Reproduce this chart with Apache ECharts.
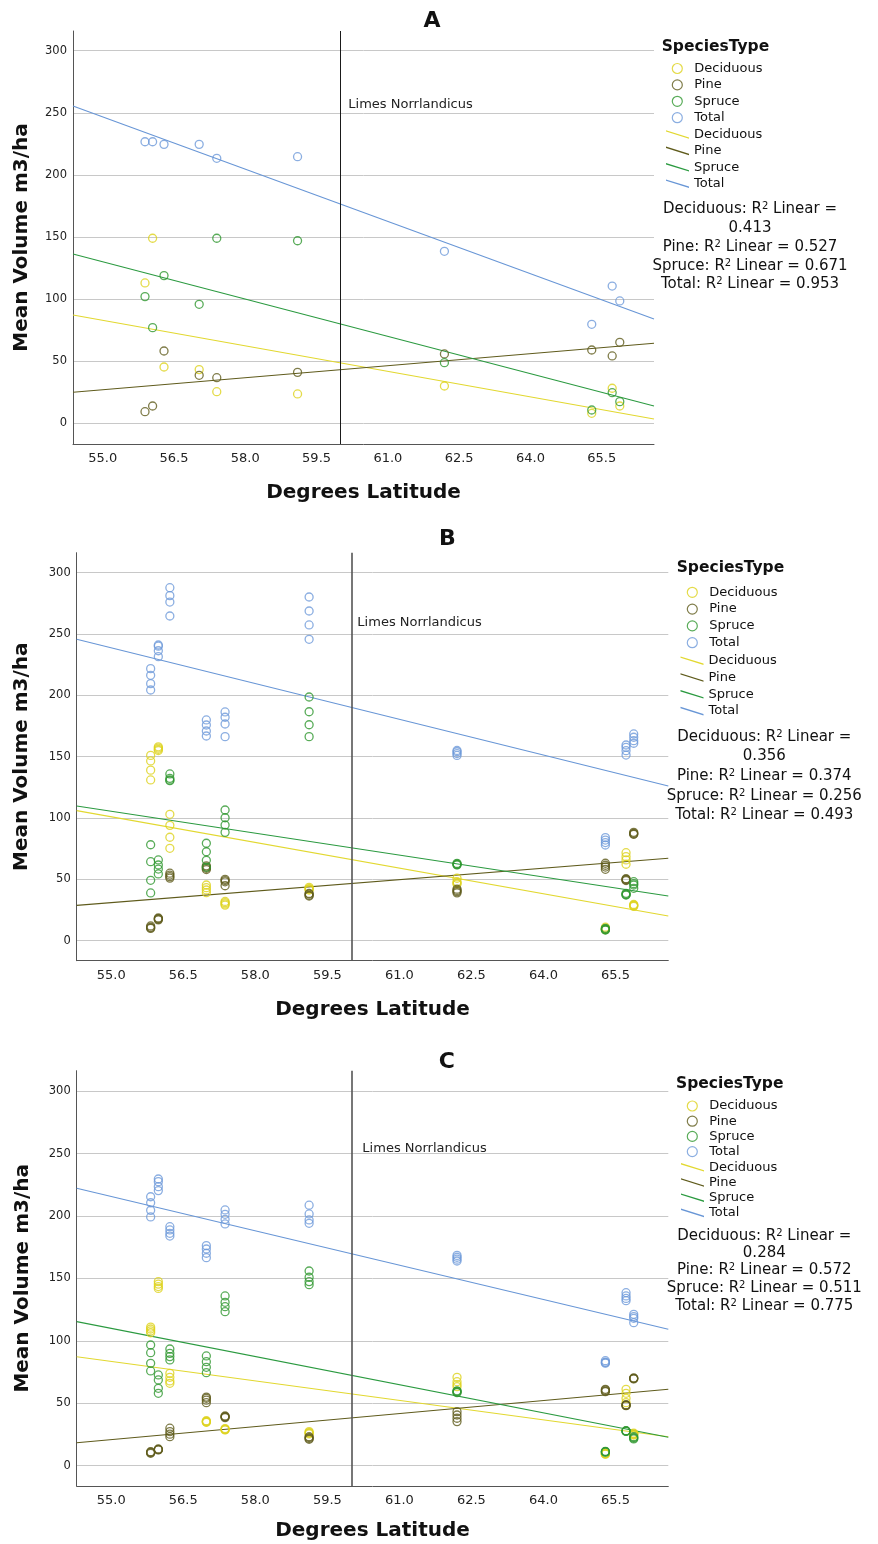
<!DOCTYPE html>
<html>
<head>
<meta charset="utf-8">
<script src="https://cdn.jsdelivr.net/npm/echarts@6.0.0/dist/echarts.min.js"></script>
<style>
html,body{margin:0;padding:0;background:#ffffff;}
#c{width:878px;height:1544px;}
</style>
</head>
<body>
<div id="c"></div>
<script>
// ---------------- DATA ----------------
const species = ['Deciduous', 'Pine', 'Spruce', 'Total'];
const xTicks = [55.0, 56.5, 58.0, 59.5, 61.0, 62.5, 64.0, 65.5];
const yTicks = [0, 50, 100, 150, 200, 250, 300];
const limesLat = 60.0;

// Panel A: one value per site
const latsA = [55.89, 56.05, 56.29, 57.03, 57.4, 59.1, 62.19, 65.29, 65.72, 65.88];
const decA = [113, 149, 45.3, 43.2, 25.4, 23.6, 30, 8, 28.2, 13.9];
const pineA = [9.3, 13.9, 58.2, 38.6, 36.7, 41, 55.8, 59, 54.2, 65.2];
const spruceA = [102, 77, 118.9, 95.8, 149, 147, 48.8, 10.7, 24.6, 17.4];
const totalA = [226.7, 226.7, 224.6, 224.6, 213.4, 214.7, 138.5, 79.7, 110.5, 98.5];
const fitA = [[87.2, 3.5], [25.0, 64.4], [136.3, 13.9], [255.5, 84.0]];
const r2A = ['0.413', '0.527', '0.671', '0.953'];

// Panels B and C: several values per site
const lats = [55.82, 55.98, 56.22, 56.98, 57.37, 59.12, 62.2, 65.29, 65.72, 65.88];

const decB = [[151, 146.5, 139, 131], [158, 157, 156, 155], [103, 94, 84.3, 75.3], [45.4, 43.2, 41.3, 39.1],
  [32, 31, 30, 29], [43.5, 42.5, 42, 41.3], [50.9, 48.1, 47, 46.2], [11, 10, 9.5, 9],
  [71.7, 68.5, 65.8, 62.3], [29.5, 29, 28.5, 28]];
const pineB = [[12, 11, 10.5, 10], [18.5, 18, 17.5, 17], [55, 53.5, 52.2, 51], [61, 60, 59, 58],
  [50, 49, 48, 44.8], [38.5, 38, 37, 36.4], [42, 41, 40, 39], [63.1, 61.5, 60, 58.2],
  [50.5, 50, 49.5, 49], [88.3, 87.5, 87, 86.7]];
const spruceB = [[78.2, 64.4, 49.2, 38.9], [65.8, 61.7, 58.4, 54.4], [135.9, 132.3, 131, 130.4], [79.4, 72.5, 65.5, 59.8],
  [106.5, 100.2, 94.3, 88.3], [198.6, 186.6, 176, 166.3], [63, 62.5, 62, 61.8], [10.1, 9.5, 9, 8.7],
  [38.6, 38, 37.5, 37.2], [48.1, 46.5, 45.4, 42.7]];
const totalB = [[221.7, 216.3, 209.5, 204.3], [241, 240, 236.3, 231.5], [287.7, 281.2, 276, 264.6], [179.9, 175.8, 170.9, 166.8],
  [186.4, 182.1, 176.6, 166.3], [280.1, 268.7, 257.3, 245.6], [155, 154, 152.5, 151], [84, 82, 80, 78],
  [159.5, 157.6, 154.9, 151.3], [168.5, 165.8, 163, 160.9]];
const fitB = [[106.0, 20.1], [28.8, 67.2], [109.8, 36.4], [245.6, 126.1]];
const r2B = ['0.356', '0.374', '0.256', '0.493'];

const decC = [[111, 109.5, 108, 106.5], [147.5, 145.5, 143.5, 142], [74, 70.8, 67.9, 66], [36, 35.5, 35, 34.8],
  [29.7, 29.2, 28.8, 28.6], [27.3, 26.5, 26, 25.4], [70.8, 67.3, 65, 63.3], [10, 9.6, 9.4, 9.2],
  [61.2, 58, 54, 50.5], [26, 25.5, 25, 24.5]];
const pineC = [[11.2, 10.8, 10.4, 9.9], [13.4, 13, 12.8, 12.6], [30, 27.3, 25.2, 23.2], [55, 54, 52.5, 50.5],
  [39.8, 39.3, 39, 38.5], [23.2, 22.5, 21.8, 21.1], [43.3, 40.6, 38, 35.3], [61.2, 60.5, 59.8, 59.3],
  [48.8, 48.5, 48.3, 48.1], [70.3, 70, 69.8, 69.5]];
const spruceC = [[96.7, 90.5, 82, 75.9], [72.7, 68.7, 62, 58], [93.5, 90, 87.4, 84.7], [87.9, 83.3, 78.8, 74.5],
  [136, 130.9, 127.4, 123.4], [156, 151, 147.5, 145], [60, 59.5, 59, 58.5], [11.5, 11.2, 11, 10.8],
  [28, 27.8, 27.6, 27.4], [23.2, 22.5, 22, 21.4]];
const totalC = [[215.5, 210.7, 204.6, 199.3], [229.7, 227.6, 223.6, 220.4], [191.5, 188.9, 186.2, 184], [176.3, 173.6, 170.2, 166.7],
  [204.9, 201.4, 197.4, 193.7], [208.7, 201.7, 196.9, 194.2], [168.5, 167, 165.5, 164], [84.1, 83, 82.5, 82.1],
  [138.6, 136, 134, 132.2], [121.3, 119.5, 118.1, 114.6]];
const fitC = [[87.3, 23.2], [18.4, 61.2], [115.4, 22.8], [222.3, 109.3]];
const r2C = ['0.284', '0.572', '0.511', '0.775'];

// ---------------- STYLE / LAYOUT ----------------
const FONT = 'DejaVu Sans';
const markerColors = ['#ddd21c', '#5f5b1c', '#2f972f', '#6e9ad9'];
const lineColors = ['#e2d830', '#5f5b1c', '#2b9a40', '#6896d6'];
const LINE_ICON = 'path://M0,0L23,7.2L23,8.6L0,1.4Z';

const panels = [
  { title: 'A', lats: latsA, values: [decA, pineA, spruceA, totalA], fits: fitA, r2: r2A,
    grid: { left: 73, top: 31, width: 581, height: 413 }, xMin: 54.375, xMax: 66.6, yMin: -16.7, yMax: 315.9,
    xNameGap: 39, yNameGap: 41, titleX: 432, titleY: 21, limesColor: '#1a1a1a', limesWidth: 1,
    labelY: 256.8, labelDist: 7, headX: 661.7, headY: 46.5,
    circLeft: 671.7, circTop: 60.5, lineLeft: 666, lineTop: 126.5, lh: 16, gap: 0.4, circPad: 7,
    r2X: 750, r2Y: [208.7, 228.3, 246.7, 265.7, 284.3] },
  { title: 'B', lats: lats, values: [decB, pineB, spruceB, totalB], fits: fitB, r2: r2B,
    grid: { left: 76.7, top: 552.7, width: 591.6, height: 408 }, xMin: 54.28, xMax: 66.6, yMin: -16.3, yMax: 316.2,
    xNameGap: 39, yNameGap: 44.5, titleX: 447.5, titleY: 539, limesColor: '#555555', limesWidth: 1.6,
    labelY: 259, labelDist: 5, headX: 676.7, headY: 568.3,
    circLeft: 686.7, circTop: 584.3, lineLeft: 680.5, lineTop: 652.7, lh: 16, gap: 0.8, circPad: 7,
    r2X: 764.3, r2Y: [736.7, 756, 776, 795.7, 815] },
  { title: 'C', lats: lats, values: [decC, pineC, spruceC, totalC], fits: fitC, r2: r2C,
    grid: { left: 76.7, top: 1070.7, width: 591.6, height: 415.3 }, xMin: 54.28, xMax: 66.6, yMin: -16.3, yMax: 316.5,
    xNameGap: 35, yNameGap: 44, titleX: 446.7, titleY: 1062.5, limesColor: '#555555', limesWidth: 1.6,
    labelY: 254.3, labelDist: 10, headX: 676, headY: 1084.3,
    circLeft: 686.7, circTop: 1098.5, lineLeft: 681, lineTop: 1159.8, lh: 15, gap: 0.2, circPad: 7,
    r2X: 764.3, r2Y: [1235.7, 1252.7, 1270, 1287.7, 1305.7] }
];

function points(latList, vals) {
  const out = [];
  latList.forEach((lat, i) => {
    const v = vals[i];
    if (Array.isArray(v)) v.forEach(x => out.push([lat, x]));
    else out.push([lat, v]);
  });
  return out;
}

const grids = [], xAxes = [], yAxes = [], series = [], legends = [], graphics = [];

panels.forEach((p, pi) => {
  grids.push({ left: p.grid.left, top: p.grid.top, width: p.grid.width, height: p.grid.height, containLabel: false });
  xAxes.push({
    type: 'value', gridIndex: pi, min: p.xMin, max: p.xMax,
    axisLine: { show: true, onZero: false, lineStyle: { color: '#555555', width: 1 } },
    axisTick: { show: false, customValues: xTicks },
    axisLabel: { customValues: xTicks, formatter: v => Number(v).toFixed(1), fontSize: 13, color: '#222222', margin: 8, fontFamily: FONT },
    splitLine: { show: false },
    name: 'Degrees Latitude', nameLocation: 'middle', nameGap: p.xNameGap,
    nameTextStyle: { fontSize: 20, fontWeight: 'bold', color: '#111111', fontFamily: FONT }
  });
  yAxes.push({
    type: 'value', gridIndex: pi, min: p.yMin, max: p.yMax,
    axisLine: { show: true, onZero: false, lineStyle: { color: '#555555', width: 1 } },
    axisTick: { show: false, customValues: yTicks },
    axisLabel: { customValues: yTicks, fontSize: 11.5, color: '#222222', margin: 6, fontFamily: FONT },
    splitLine: { show: true, lineStyle: { color: '#c8c8c8', width: 1 } },
    name: 'Mean Volume m3/ha', nameLocation: 'middle', nameGap: p.yNameGap,
    nameTextStyle: { fontSize: 20, fontWeight: 'bold', color: '#111111', fontFamily: FONT }
  });

  // fit lines
  p.fits.forEach((f, si) => {
    const s = {
      type: 'line', name: species[si] + ' fit', xAxisIndex: pi, yAxisIndex: pi,
      data: [[p.xMin, f[0]], [p.xMax, f[1]]], symbol: 'none', silent: true, z: 2,
      lineStyle: { color: lineColors[si], width: 1.1 }, itemStyle: { color: lineColors[si] }
    };
    if (si === 3) {
      s.markLine = {
        silent: true, symbol: ['none', 'none'], label: { show: false },
        lineStyle: { color: p.limesColor, width: p.limesWidth, type: 'solid' },
        data: [{ xAxis: limesLat }]
      };
      s.markPoint = {
        silent: true, symbol: 'circle', symbolSize: 2, itemStyle: { color: 'rgba(0,0,0,0)' },
        label: { show: true, position: 'right', distance: p.labelDist, formatter: 'Limes Norrlandicus',
          color: '#222222', fontSize: 13, fontFamily: FONT },
        data: [{ coord: [limesLat, p.labelY] }]
      };
    }
    series.push(s);
  });
  // scatter points
  p.values.forEach((vals, si) => {
    series.push({
      type: 'scatter', name: species[si], xAxisIndex: pi, yAxisIndex: pi,
      data: points(p.lats, vals), symbol: 'circle', symbolSize: 8, z: 3,
      itemStyle: { color: 'rgba(255,255,255,0)', borderColor: markerColors[si], borderWidth: 1.3 }
    });
  });

  // legends
  legends.push({
    orient: 'vertical', left: p.circLeft, top: p.circTop, padding: 0, itemWidth: 10, itemHeight: 10,
    itemGap: p.gap, selectedMode: false,
    data: species.map((s, si) => ({ name: s, icon: 'circle',
      itemStyle: { color: 'rgba(255,255,255,0)', borderColor: markerColors[si], borderWidth: 1.2 } })),
    textStyle: { fontSize: 13, color: '#111111', fontFamily: FONT, lineHeight: p.lh, padding: [0, 0, 0, p.circPad] }
  });
  legends.push({
    orient: 'vertical', left: p.lineLeft, top: p.lineTop, padding: 0, itemWidth: 23, itemHeight: 10,
    itemGap: p.gap, selectedMode: false,
    data: species.map((s, si) => ({ name: s + ' fit', icon: LINE_ICON,
      itemStyle: { color: lineColors[si], borderWidth: 0 } })),
    formatter: n => n.replace(' fit', ''),
    textStyle: { fontSize: 13, color: '#111111', fontFamily: FONT, lineHeight: p.lh }
  });

  // titles and text
  graphics.push({ type: 'text', x: p.titleX, y: p.titleY, silent: true,
    style: { text: p.title, font: 'bold 22px "DejaVu Sans"', fill: '#111111', align: 'center', verticalAlign: 'middle',
      textAlign: 'center', textVerticalAlign: 'middle' } });
  graphics.push({ type: 'text', x: p.headX, y: p.headY, silent: true,
    style: { text: 'SpeciesType', font: 'bold 15.5px "DejaVu Sans"', fill: '#111111', align: 'left', verticalAlign: 'middle',
      textAlign: 'left', textVerticalAlign: 'middle' } });
  const lines = [
    '{a|Deciduous: R}{s|2}{a| Linear =}',
    '{a|' + p.r2[0] + '}',
    '{a|Pine: R}{s|2}{a| Linear = ' + p.r2[1] + '}',
    '{a|Spruce: R}{s|2}{a| Linear = ' + p.r2[2] + '}',
    '{a|Total: R}{s|2}{a| Linear = ' + p.r2[3] + '}'
  ];
  lines.forEach((t, li) => {
    graphics.push({ type: 'text', x: p.r2X, y: p.r2Y[li], silent: true,
      style: { text: t, align: 'center', verticalAlign: 'middle', textAlign: 'center', textVerticalAlign: 'middle',
        fill: '#111111',
        rich: { a: { fontSize: 15, fontFamily: FONT, fill: '#111111' },
                s: { fontSize: 10, fontFamily: FONT, fill: '#111111', verticalAlign: 'top' } } } });
  });
});

const chart = echarts.init(document.getElementById('c'), null, { renderer: 'canvas', width: 878, height: 1544 });
chart.setOption({
  animation: false,
  backgroundColor: '#ffffff',
  textStyle: { fontFamily: FONT },
  grid: grids, xAxis: xAxes, yAxis: yAxes, series: series, legend: legends, graphic: graphics
});
</script>
</body>
</html>
